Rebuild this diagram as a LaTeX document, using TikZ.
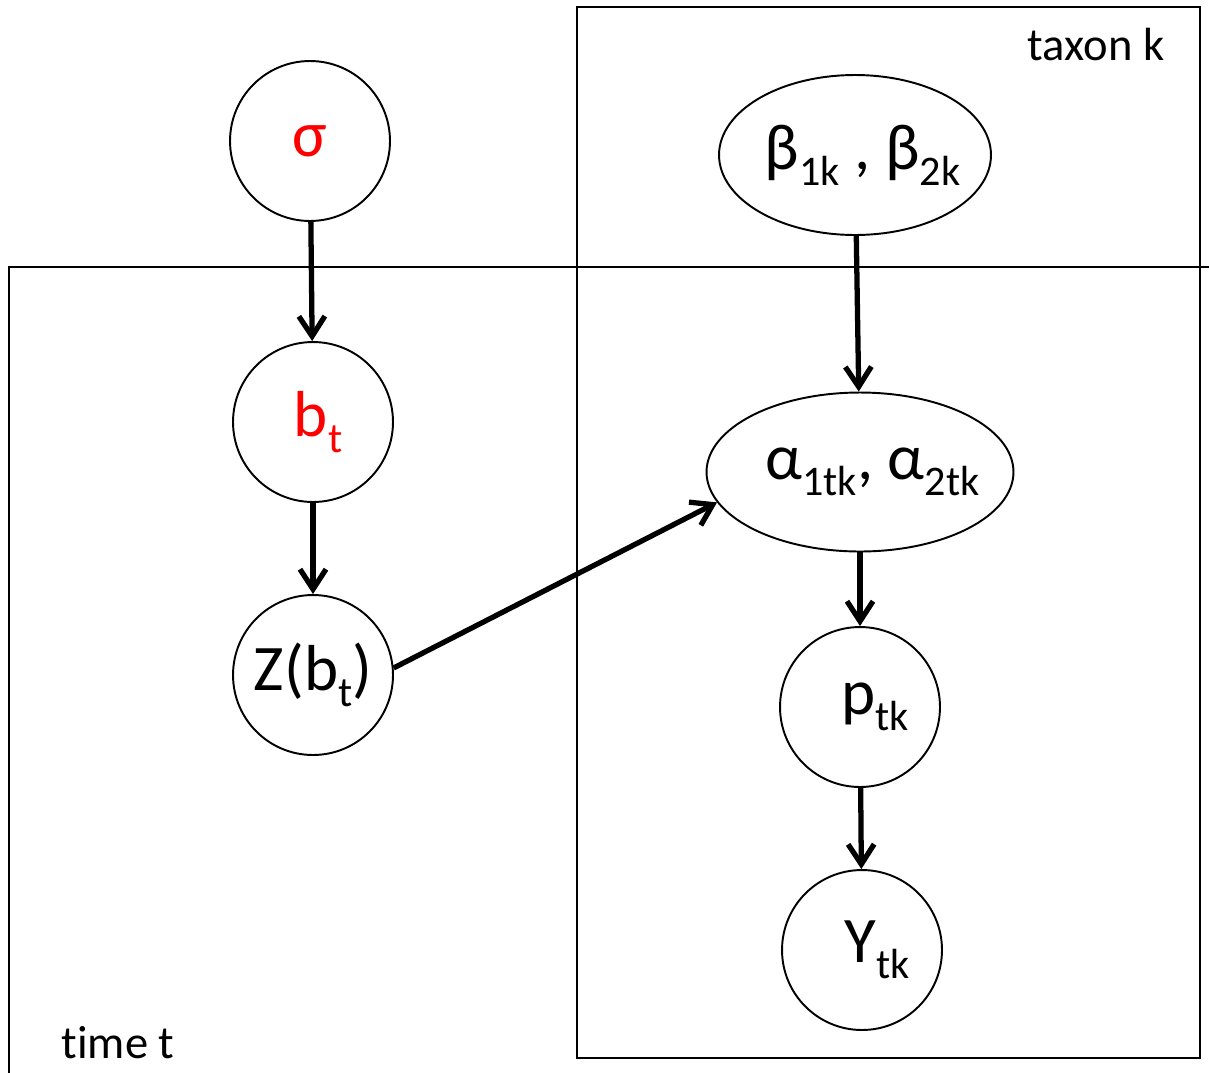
\documentclass[tikz,border=0pt]{standalone}
\usepackage{fontspec}
\setmainfont{Carlito}[Ligatures={NoCommon}]
\usepackage{tikz}
\usetikzlibrary{positioning,arrows.meta,shapes.geometric}
\usepackage{xcolor}

\newcommand{\lo}[1]{\raisebox{-9pt}{\fontsize{24}{26}\selectfont #1}}

\begin{document}
\begin{tikzpicture}[x=0.02cm, y=-0.02cm,
  var/.style={draw, line width=1.1pt, circle, minimum size=3.2cm, inner sep=0pt, font=\fontsize{37}{40}\selectfont},
  par/.style={draw, line width=1.1pt, ellipse, inner sep=0pt, label={[font=\fontsize{37}{40}\selectfont]center:#1}},
  dep/.style={line width=3pt, -{Straight Barb[length=4mm,width=5.2mm]}},
  plate/.style={line width=1.1pt},
  platelabel/.style={font=\fontsize{26.5}{30}\selectfont}]
\path[use as bounding box, clip] (0,0) rectangle (1209,1072);

% プレート
\draw[plate] (577,7) rectangle (1200,1058);
\draw[plate] (9,267) rectangle (1240,1110);
\node[platelabel] (taxonlbl) at (1096,45) {taxon k};
\node[platelabel] (timelbl) at (118,1043) {time t};

% 左列
\node[var, text=red] (sigma) at (310,141) {σ};
\node[var, text=red] (bt) at (313,422) {\hspace{0.2cm}b\lo{t}};
\node[var] (Z) at (313,675) {Z(b\lo{t})};

% 右列
\node[par={\hspace{0.3cm}β\lo{1k} , β\lo{2k}}, minimum width=5.44cm, minimum height=3.2cm] (beta) at (855,155) {};
\node[par={\hspace{0.5cm}α\lo{1tk}, α\lo{2tk}}, minimum width=6.14cm, minimum height=3.18cm] (alpha) at (860,472) {};
\node[var] (p) at (860,707) {\hspace{0.6cm}p\lo{tk}};
\node[var] (Y) at (862,950) {\hspace{0.6cm}Y\lo{tk}};

% 依存関係
\draw[dep] (sigma) -- (bt);
\draw[dep] (bt) -- (Z);
\draw[dep] (beta) -- (alpha);
\draw[dep] (Z.5) -- (alpha.192);
\draw[dep] (alpha) -- (p);
\draw[dep] (p) -- (Y);
\end{tikzpicture}
\end{document}
